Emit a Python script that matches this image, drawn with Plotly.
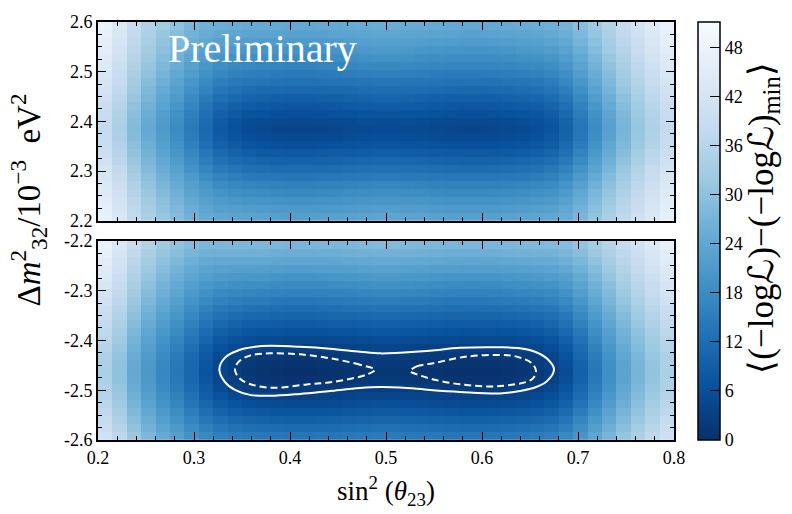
import numpy as np
import plotly.graph_objects as go

# ---------------- data ----------------
# sin^2(theta23) bin edges: 40 bins over [0.2, 0.8]
sin2_edges = np.linspace(0.2, 0.8, 41)
# Delta m^2_32 bin edges: 25 bins per panel
dm2_top_edges = np.linspace(2.2, 2.6, 26)
dm2_bot_edges = np.linspace(-2.6, -2.2, 26)

# -dlogL along sin^2(theta23) at the best-fit Delta m^2 (one value per column)
profile_sin2 = [34, 30, 24.5, 20.5, 17, 14, 10.5, 7, 4, 2.3,
                1.3, 0.7, 0.35, 0.15, 0.15, 0.3, 0.5, 0.8, 1.1, 1.3,
                1.3, 1.1, 0.85, 0.6, 0.4, 0.3, 0.3, 0.45, 0.7, 1.1,
                1.7, 3.0, 5.5, 9.5, 14, 18.5, 23, 27, 30.5, 34]

# relative sensitivity to Delta m^2 for each sin^2 column
dm2_weight = [0.5, 0.5, 0.52, 0.53, 0.56, 0.6, 0.66, 0.76, 0.87, 0.94,
              0.98, 1, 1, 1, 1, 1, 1, 1, 1, 1,
              1, 1, 1, 1, 1, 1, 1, 1, 1, 1,
              0.98, 0.94, 0.87, 0.78, 0.7, 0.63, 0.57, 0.52, 0.5, 0.48]

# -dlogL along Delta m^2 at the best-fit sin^2 (one value per row, bottom to top)
profile_dm2_bottom = [13.5, 11.3, 9.1, 6.9, 4.8, 3.0, 1.5, 0.45, 0.0, 0.4,
                      1.3, 2.7, 4.4, 6.2, 8.1, 10.0, 11.9, 13.8, 15.7, 17.6,
                      19.5, 21.4, 23.3, 25.2, 27.0]
profile_dm2_top = [18, 16.5, 15, 13.3, 11.5, 9.5, 7.5, 5.5, 3.6, 1.9,
                   0.6, 0.0, 0.5, 1.7, 3.3, 5.0, 6.8, 8.6, 10.4, 12.1,
                   13.8, 15.4, 17.0, 18.5, 20.0]
top_offset = 4.0   # minimum of the normal-hierarchy panel

# confidence contours (bottom panel)
cl90_sin2 = [0.3264, 0.3323, 0.3479, 0.3635, 0.3792, 0.4104, 0.4417, 0.4729, 0.4938,
             0.5146, 0.5458, 0.5771, 0.6188, 0.6396, 0.6552, 0.6677, 0.6750, 0.6677,
             0.6552, 0.6396, 0.6188, 0.5771, 0.5458, 0.5146, 0.4938, 0.4729, 0.4417,
             0.4104, 0.3792, 0.3583, 0.3427, 0.3323, 0.3264]
cl90_dm2 = [-2.4581, -2.4345, -2.4187, -2.4128, -2.4108, -2.4128, -2.4167, -2.4227, -2.4260,
            -2.4246, -2.4207, -2.4148, -2.4138, -2.4158, -2.4227, -2.4365, -2.4581, -2.4818,
            -2.4946, -2.5015, -2.5064, -2.5034, -2.4995, -2.4946, -2.4936, -2.4956, -2.5015,
            -2.5074, -2.5113, -2.5094, -2.4995, -2.4837, -2.4581]
cl68a_sin2 = [0.4885, 0.4729, 0.4451, 0.4104, 0.3792, 0.3583, 0.3479, 0.3427, 0.3448,
              0.3531, 0.3792, 0.4174, 0.4451, 0.4799, 0.4885]
cl68a_dm2 = [-2.4587, -2.4489, -2.4370, -2.4280, -2.4260, -2.4305, -2.4404, -2.4556, -2.4700,
             -2.4837, -2.4950, -2.4883, -2.4832, -2.4686, -2.4587]
cl68b_sin2 = [0.5250, 0.5320, 0.5493, 0.5841, 0.6188, 0.6361, 0.6518, 0.6563, 0.6518,
              0.6188, 0.5841, 0.5493, 0.5284, 0.5250]
cl68b_dm2 = [-2.4621, -2.4522, -2.4457, -2.4325, -2.4292, -2.4325, -2.4457, -2.4621, -2.4784,
             -2.4916, -2.4897, -2.4784, -2.4654, -2.4621]

x_ticks = [0.2, 0.3, 0.4, 0.5, 0.6, 0.7, 0.8]
y_ticks_top = [2.2, 2.3, 2.4, 2.5, 2.6]
y_ticks_bot = [-2.6, -2.5, -2.4, -2.3, -2.2]
cbar_ticks = [0, 6, 12, 18, 24, 30, 36, 42, 48]
z_max = 51.1

# ---------------- build tables ----------------
f = np.array(profile_sin2)
w = np.array(dm2_weight)
z_top = top_offset + f[None, :] + np.array(profile_dm2_top)[:, None] * w[None, :]
z_bot = f[None, :] + np.array(profile_dm2_bottom)[:, None] * w[None, :]
xc = 0.5 * (sin2_edges[:-1] + sin2_edges[1:])
yc_top = 0.5 * (dm2_top_edges[:-1] + dm2_top_edges[1:])
yc_bot = 0.5 * (dm2_bot_edges[:-1] + dm2_bot_edges[1:])

blues_r = ['rgb(8,48,107)', 'rgb(8,81,156)', 'rgb(33,113,181)', 'rgb(66,146,198)',
           'rgb(107,174,214)', 'rgb(158,202,225)', 'rgb(198,219,239)',
           'rgb(222,235,247)', 'rgb(247,251,255)']
cscale = [[i / 8, c] for i, c in enumerate(blues_r)]

FONT = "Liberation Serif"
TICK_SIZE = 18

fig = go.Figure()
fig.add_trace(go.Heatmap(x=xc, y=yc_top, z=z_top, coloraxis="coloraxis",
                         xaxis="x2", yaxis="y2", hoverinfo="skip"))
fig.add_trace(go.Heatmap(x=xc, y=yc_bot, z=z_bot, coloraxis="coloraxis",
                         xaxis="x", yaxis="y", hoverinfo="skip"))
fig.add_trace(go.Scatter(x=cl90_sin2, y=cl90_dm2, mode="lines", line_shape="spline",
                         line=dict(color="white", width=2), showlegend=False,
                         xaxis="x", yaxis="y"))
for xs, ys in [(cl68a_sin2, cl68a_dm2), (cl68b_sin2, cl68b_dm2)]:
    fig.add_trace(go.Scatter(x=xs, y=ys, mode="lines", line_shape="spline",
                             line=dict(color="white", width=2, dash="7px,4px"),
                             showlegend=False, xaxis="x", yaxis="y"))

axis_common = dict(showline=True, linecolor="black", linewidth=2, mirror="allticks",
                   ticks="inside", tickcolor="black", tickwidth=1.3, ticklen=8,
                   showgrid=False, zeroline=False,
                   tickfont=dict(family=FONT, size=TICK_SIZE, color="black"))

fig.update_layout(
    width=792, height=514,
    margin=dict(l=98, r=118, t=14, b=74),
    paper_bgcolor="white", plot_bgcolor="white",
    font=dict(family=FONT, color="black"),
    showlegend=False,
    coloraxis=dict(colorscale=cscale, cmin=0, cmax=z_max,
                   colorbar=dict(x=1.0417, xanchor="left", xref="paper",
                                 y=0.5, yanchor="middle", len=1.0, lenmode="fraction",
                                 thickness=22, thicknessmode="pixels",
                                 outlinecolor="black", outlinewidth=1.5,
                                 ticks="inside", ticklen=10, tickcolor="black",
                                 tickvals=cbar_ticks, ticktext=[str(t) for t in cbar_ticks],
                                 tickfont=dict(family=FONT, size=TICK_SIZE, color="black"),
                                 xpad=0, ypad=0)),
    xaxis=dict(domain=[0, 1], range=[0.2, 0.8], anchor="y",
               tickvals=x_ticks, ticktext=[f"{v:.1f}" for v in x_ticks],
               minor=dict(dtick=0.02, ticks="inside", ticklen=4, tickcolor="black", tickwidth=1),
               **axis_common),
    yaxis=dict(domain=[0, 0.4765], range=[-2.6, -2.2], anchor="x",
               tickvals=y_ticks_bot, ticktext=[f"{v:.1f}" for v in y_ticks_bot],
               minor=dict(dtick=0.025, ticks="inside", ticklen=4, tickcolor="black", tickwidth=1),
               **axis_common),
    xaxis2=dict(domain=[0, 1], range=[0.2, 0.8], anchor="y2", matches="x",
                tickvals=x_ticks, showticklabels=False,
                minor=dict(dtick=0.02, ticks="inside", ticklen=4, tickcolor="black", tickwidth=1),
                **axis_common),
    yaxis2=dict(domain=[0.5246, 1], range=[2.2, 2.6], anchor="x2",
                tickvals=y_ticks_top, ticktext=[f"{v:.1f}" for v in y_ticks_top],
                minor=dict(dtick=0.025, ticks="inside", ticklen=4, tickcolor="black", tickwidth=1),
                **axis_common),
)

fig.add_annotation(text="Preliminary", x=0.371, y=2.547, xref="x2", yref="y2",
                   showarrow=False, font=dict(family=FONT, size=40, color="white"))
fig.add_annotation(text="sin<sup>2</sup> (<i>θ</i><sub>23</sub>)", x=0.5, y=-0.122,
                   xref="paper", yref="paper", showarrow=False, yanchor="middle",
                   font=dict(family=FONT, size=27, color="black"))
fig.add_annotation(text="Δ<i>m</i><sup>2</sup><sub>32</sub>/10<sup>−3</sup>  eV<sup>2</sup>",
                   x=-0.12, y=0.575, xref="paper", yref="paper", showarrow=False,
                   textangle=-90, xanchor="center", yanchor="middle",
                   font=dict(family=FONT, size=33, color="black"))
fig.add_annotation(text="⟨(−logℒ)−(−logℒ)<sub>min</sub>⟩",
                   x=1.155, y=0.53, xref="paper", yref="paper", showarrow=False,
                   textangle=-90, xanchor="center", yanchor="middle",
                   font=dict(family=FONT, size=35, color="black"))

fig.write_html("out.html")
